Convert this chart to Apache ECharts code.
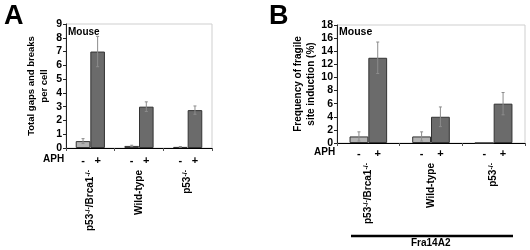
<!DOCTYPE html>
<html>
<head>
<meta charset="utf-8">
<script src="https://cdn.jsdelivr.net/npm/echarts@6/dist/echarts.min.js"></script>
<style>
  html, body { margin: 0; padding: 0; background: #fff; }
  #chart { width: 530px; height: 250px; }
</style>
</head>
<body>
<div id="chart"></div>
<script>
// cell lines (x categories, same for both panels)
const groups = ['p53-/-/Brca1-/-', 'Wild-type', 'p53-/-']
const aphSigns = ['-', '+']

// panel A: total gaps and breaks per cell
const gapsNoAph = [0.5, 0.15, 0.08]
const gapsNoAphErr = [0.18, 0.05, 0.03]
const gapsAph = [7.0, 3.0, 2.75]
const gapsAphErr = [1.1, 0.35, 0.3]

// panel B: frequency of fragile site induction (%)
const fragNoAph = [1, 1, 0]
const fragNoAphErr = [0.7, 0.7, 0]
const fragAph = [13, 4, 6]
const fragAphErr = [2.4, 1.5, 1.7]

const FONT = '"Liberation Sans", Arial, sans-serif'
const LIGHT = '#b3b3b3'
const DARK = '#6b6b6b'

const chart = echarts.init(document.getElementById('chart'))

// superscript "-/-" in genotype names
function catLabel(v) {
  return v.split(/(-\/-)/).map(p => p === '-/-' ? '{s|' + p + '}' : (p ? '{n|' + p + '}' : '')).join('')
}

function xAxisFor(gridIndex, margin) {
  return {
    type: 'category',
    gridIndex,
    data: groups,
    axisLine: { lineStyle: { color: '#000', width: 1 } },
    axisTick: { show: true, length: 3, lineStyle: { color: '#555' } },
    axisLabel: {
      rotate: 90,
      margin,
      color: '#000',
      formatter: catLabel,
      rich: {
        n: { fontSize: 10, fontWeight: 'bold', fontFamily: FONT, color: '#000', lineHeight: 12 },
        s: { fontSize: 7, fontWeight: 'bold', fontFamily: FONT, color: '#000', verticalAlign: 'top', lineHeight: 12 },
      },
    },
  }
}

function yAxisFor(gridIndex, max, interval, name, nameGap, nameSize) {
  return {
    type: 'value',
    gridIndex,
    min: 0,
    max,
    interval,
    name,
    nameLocation: 'middle',
    nameRotate: 90,
    nameGap,
    nameTextStyle: { fontSize: nameSize, fontWeight: 'bold', fontFamily: FONT, color: '#000', lineHeight: 13 },
    axisLine: { show: true, lineStyle: { color: '#222' } },
    axisTick: { show: true, length: 3, lineStyle: { color: '#222' } },
    axisLabel: { fontSize: 10.5, fontWeight: 'bold', fontFamily: FONT, color: '#000', margin: 4 },
    splitLine: { show: false },
  }
}

function barSeries(axisIndex, values, color, sign, dist) {
  return {
    type: 'bar',
    xAxisIndex: axisIndex,
    yAxisIndex: axisIndex,
    data: values,
    barGap: '0%',
    barCategoryGap: '40%',
    itemStyle: { color, borderColor: '#333', borderWidth: 1 },
    label: {
      show: true,
      position: 'bottom',
      distance: dist,
      formatter: () => sign,
      fontSize: 11,
      fontWeight: 'bold',
      fontFamily: FONT,
      color: '#000',
    },
    z: 2,
  }
}

// error bars, offset to the centre of each bar of the pair
function errSeries(axisIndex, values, errs, side) {
  return {
    type: 'custom',
    xAxisIndex: axisIndex,
    yAxisIndex: axisIndex,
    data: values.map((v, i) => [i, v - errs[i], v + errs[i], errs[i]]),
    z: 5,
    silent: true,
    renderItem(params, api) {
      if (!api.value(3)) return null
      const cw = api.size([1, 0])[0]
      const lo = api.coord([api.value(0), api.value(1)])
      const hi = api.coord([api.value(0), api.value(2)])
      const x = lo[0] + side * cw * 0.15
      const cap = 1.5
      const style = { stroke: '#8c8c8c', lineWidth: 1 }
      return {
        type: 'group',
        children: [
          { type: 'line', shape: { x1: x, y1: lo[1], x2: x, y2: hi[1] }, style },
          { type: 'line', shape: { x1: x - cap, y1: hi[1], x2: x + cap, y2: hi[1] }, style },
          { type: 'line', shape: { x1: x - cap, y1: lo[1], x2: x + cap, y2: lo[1] }, style },
        ],
      }
    },
  }
}

const textStyle = (size) => ({ fontSize: size, fontWeight: 'bold', fontFamily: FONT, fill: '#000' })

const option = {
  animation: false,
  backgroundColor: '#fff',
  grid: [
    { left: 66, right: 318, top: 24, bottom: 102, show: true, borderColor: '#cfcfcf', borderWidth: 1 },
    { left: 337, right: 5, top: 25, bottom: 107, show: true, borderColor: '#cfcfcf', borderWidth: 1 },
  ],
  xAxis: [xAxisFor(0, 22), xAxisFor(1, 20)],
  yAxis: [
    yAxisFor(0, 9, 1, 'Total gaps and breaks\nper cell', 15, 9.5),
    yAxisFor(1, 18, 2, 'Frequency of fragile\nsite induction (%)', 18, 10),
  ],
  series: [
    barSeries(0, gapsNoAph, LIGHT, aphSigns[0], 7),
    barSeries(0, gapsAph, DARK, aphSigns[1], 7),
    errSeries(0, gapsNoAph, gapsNoAphErr, -1),
    errSeries(0, gapsAph, gapsAphErr, 1),
    barSeries(1, fragNoAph, LIGHT, aphSigns[0], 5),
    barSeries(1, fragAph, DARK, aphSigns[1], 5),
    errSeries(1, fragNoAph, fragNoAphErr, -1),
    errSeries(1, fragAph, fragAphErr, 1),
  ],
  graphic: [
    { type: 'text', left: 4, top: 3, style: { text: 'A', ...textStyle(27) } },
    { type: 'text', left: 269, top: 3, style: { text: 'B', ...textStyle(27) } },
    { type: 'text', left: 68, top: 27, style: { text: 'Mouse', ...textStyle(10) } },
    { type: 'text', left: 339, top: 27, style: { text: 'Mouse', ...textStyle(10.5) } },
    { type: 'text', left: 43, top: 154, style: { text: 'APH', ...textStyle(10) } },
    { type: 'text', left: 314, top: 147, style: { text: 'APH', ...textStyle(10) } },
    { type: 'line', shape: { x1: 351, y1: 236, x2: 513, y2: 236 }, style: { stroke: '#000', lineWidth: 2.5 } },
    { type: 'text', left: 411, top: 238, style: { text: 'Fra14A2', ...textStyle(10) } },
  ],
}

chart.setOption(option)
</script>
</body>
</html>
